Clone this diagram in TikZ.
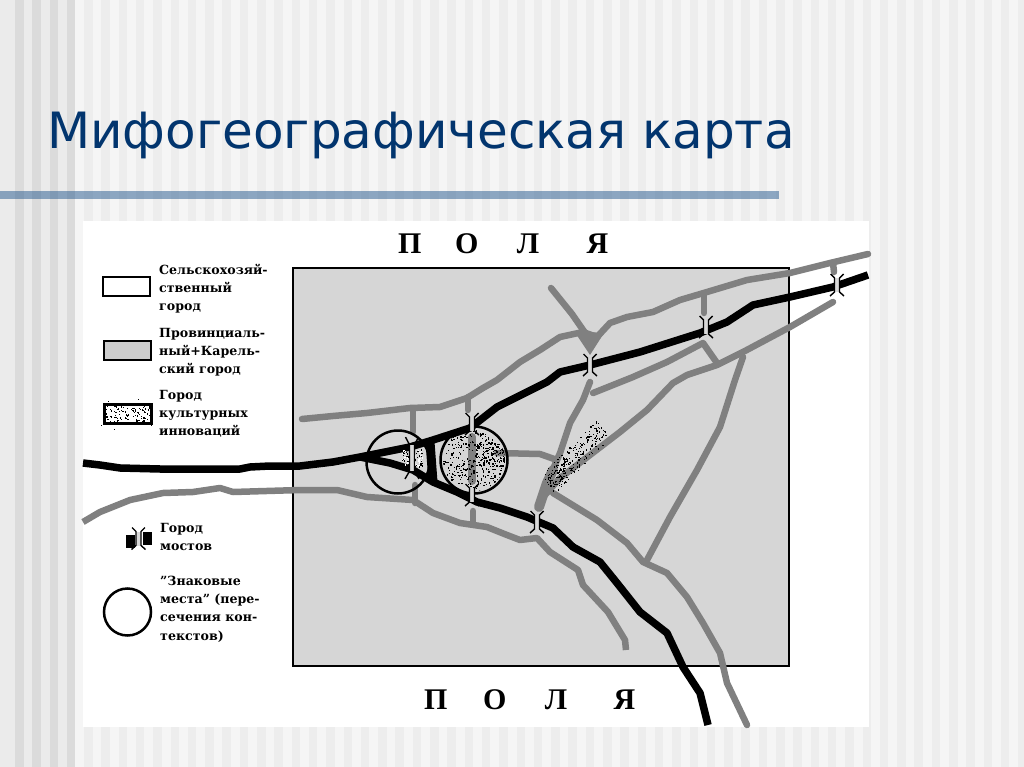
\documentclass[tikz,border=0pt]{standalone}
\usepackage{fontspec}
\setmainfont{DejaVu Serif}
\newfontfamily\titlefont{DejaVu Sans}
\newfontfamily\fieldfont{Liberation Serif}[BoldFont={Liberation Serif Bold}]
\definecolor{titleblue}{HTML}{02356E}
\definecolor{barblue}{HTML}{24598F}
\definecolor{fieldgrey}{HTML}{D6D6D6}
\definecolor{rivergrey}{HTML}{808080}
\definecolor{boxgrey}{HTML}{CDCDCD}
\tikzset{
  greyriver/.style={draw=rivergrey, line width=6.5pt, line join=round, line cap=round},
  blackriver/.style={draw=black, line width=7.5pt, line join=round},
  legendtext/.style={anchor=north west, inner sep=0pt, align=left, font=\fontsize{12.6}{18.2}\selectfont\bfseries},
  fieldtext/.style={anchor=base west, inner sep=0pt, font=\fieldfont\fontsize{30}{30}\selectfont\bfseries},
  legendbox/.style={rectangle, draw, line width=2.5pt, inner sep=0pt, minimum width=47pt, minimum height=19pt},
  placering/.style={circle, draw, line width=2.5pt, inner sep=0pt},
  bridgesign/.pic={
    \fill[fill=white!85!black] (-2.5,-7) rectangle (2.5,7);
    \draw[line width=1.4pt] (-6.5,-11) -- (-2.5,-7) -- (-2.5,7) -- (-7,11);
    \draw[line width=1.4pt] (6.5,-11) -- (2.5,-7) -- (2.5,7) -- (7,11);
  }
}
\begin{document}
\begin{tikzpicture}[x=1pt,y=-1pt]
\useasboundingbox (0,0) rectangle (1024,767);
\fill[white!96!black] (0,0) rectangle (1024,767);
\foreach \k in {0,...,57}
  \fill[white!93!black] ({84+17.3*\k},0) rectangle ({92.5+17.3*\k},767);
\fill[white!92!black] (0,0) rectangle (75,767);
\foreach \k in {0,...,3}
  \fill[white!86!black] ({15+17.3*\k},0) rectangle ({23.5+17.3*\k},767);
\fill[barblue, fill opacity=.5] (0,191) rectangle (779,199);
\node[anchor=base west, inner sep=0pt, text=titleblue, font=\titlefont\fontsize{50}{50}\selectfont] (maptitle) at (47,149) {Мифогеографическая карта};

\fill[white] (83,221) rectangle (869,727);
\node[rectangle, draw, fill=fieldgrey, line width=2.5pt, inner sep=0pt, minimum width=496pt, minimum height=398pt] (city) at (541,467) {};
\node[fieldtext] (fieldtop) at (398,253) {П\hspace{26pt} О\hspace{31pt} Л\hspace{40pt} Я};
\node[fieldtext] (fieldbottom) at (424,709) {П\hspace{28pt} О\hspace{31pt} Л\hspace{39pt} Я};

\draw[greyriver] (302,419) -- (333,416) -- (367,413) -- (410,408) -- (440,407) -- (467,398) -- (483,388) -- (497,380) -- (520,362) -- (540,350) -- (560,337) -- (583,332) -- (597,337) -- (610,323) -- (627,317) -- (653,312) -- (680,300) -- (707,292) -- (747,280) -- (790,273) -- (830,263) -- (868,254);
\draw[greyriver] (551,288) -- (572,314) -- (590,340);
\fill[rivergrey] (574,331) -- (604,333) -- (590,355) -- cycle;
\draw[greyriver] (704,295) -- (704,313);
\draw[greyriver] (833,263) -- (834,272);
\draw[greyriver] (590,382) -- (583,400) -- (570,423) -- (560,453) -- (547,483);
\draw[greyriver, line width=10pt] (553,470) -- (547,483) -- (539,507);
\draw[greyriver] (593,393) -- (633,377) -- (667,362) -- (703,343) -- (717,363);
\draw[greyriver] (545,495) -- (560,478) -- (590,455) -- (620,432) -- (647,410) -- (673,383) -- (687,375) -- (717,365) -- (743,352) -- (790,327) -- (833,302);
\draw[greyriver] (743,357) -- (735,380) -- (720,427) -- (697,470) -- (670,517) -- (647,560);
\draw[greyriver] (553,493) -- (597,520) -- (627,543) -- (643,562) -- (667,573) -- (687,597) -- (703,623) -- (720,653) -- (727,683) -- (747,725);
\draw[greyriver, line cap=butt] (83,522) -- (100,512) -- (130,500) -- (163,493) -- (193,492) -- (220,488) -- (233,492) -- (300,490) -- (337,490) -- (367,497) -- (413,500) -- (433,513) -- (460,523) -- (487,527) -- (507,535) -- (520,540) -- (537,538) -- (550,552) -- (578,570) -- (583,585) -- (608,612) -- (625,640) -- (626,650);
\draw[greyriver] (413,410) -- (413,432);
\draw[greyriver] (415,485) -- (415,503);
\draw[greyriver] (473,511) -- (473,523);
\draw[greyriver] (468,397) -- (468,410);
\draw[greyriver, line width=8pt] (472,437) -- (472,481);
\draw[greyriver] (497,453) -- (540,454) -- (557,460);

\draw[blackriver] (83,463) -- (100,465) -- (120,468) -- (160,469) -- (240,469) -- (250,467) -- (270,466) -- (300,466) -- (333,462) -- (360,457) -- (410,447) -- (433,440) -- (470,428) -- (497,407) -- (517,397) -- (547,382) -- (560,372) -- (590,365) -- (640,352) -- (700,333) -- (727,322) -- (753,305) -- (790,297) -- (833,287) -- (868,275);
\draw[blackriver] (360,457) -- (390,463) -- (413,470) -- (433,482) -- (457,492) -- (477,502) -- (500,508) -- (527,517) -- (553,528) -- (573,547) -- (600,562) -- (617,583) -- (640,612) -- (667,633) -- (683,667) -- (700,693) -- (708,725);
\draw[blackriver, line width=9pt] (430,442) -- (433,482);

\pgfmathsetseed{11}
\begin{scope}
\clip (474,460) circle[radius=31];
\foreach \k in {1,...,330}
  \fill ({474+31*rand},{460+31*rand}) rectangle +(1.3,1.3);
\foreach \k in {1,...,110}
  \fill ({490+15*rand},{454+12*rand}) rectangle +(1.3,1.3);
\end{scope}
\foreach \k in {1,...,55}
  \fill[white] ({412+10*rand},{458+9*rand}) rectangle +(1.5,1.5);
\foreach \k in {1,...,60}
  \fill ({412+10*rand},{458+9*rand}) rectangle +(1.2,1.2);
\foreach \k in {1,...,200} {
  \pgfmathsetmacro{\stipa}{rand}
  \pgfmathsetmacro{\stipb}{rand}
  \fill ({575+28*\stipa+7*\stipb},{457-28*\stipa+9*\stipb}) rectangle +(1.2,1.2);
}
\foreach \k in {1,...,50} {
  \pgfmathsetmacro{\stipa}{rand}
  \pgfmathsetmacro{\stipb}{rand}
  \fill ({559+10*\stipa+4*\stipb},{472-10*\stipa+6*\stipb}) rectangle +(1.2,1.2);
}
\node[placering, minimum size=63pt] (ring0) at (398,462) {};
\node[placering, minimum size=67pt] (ring1) at (474,460) {};

\pic (bridge0) at (590,365) {bridgesign};
\pic (bridge1) at (706,327) {bridgesign};
\pic (bridge2) at (837,285) {bridgesign};
\pic (bridge3) at (537,522) {bridgesign};
\pic (bridge4) at (472,424) {bridgesign};
\pic (bridge5) at (472,495) {bridgesign};
\pic[yscale=1.9] (bridge6) at (412,458) {bridgesign};

\node[legendbox] (box0) at (126.5,286.5) {};
\node[legendbox, fill=boxgrey] (box1) at (127.5,350.5) {};
\node[legendbox, fill=white] (box2) at (128,414) {};
\foreach \k in {1,...,110}
  \fill ({128+24*rand},{414+10*rand}) rectangle +(1.2,1.2);
\foreach \k in {1,...,22}
  \fill ({128+29*rand},{414+15*rand}) rectangle +(1,1);
\node[legendbox, fill=white, fill opacity=0, minimum width=47pt] (box3) at (128,414) {};
\fill (126,535) rectangle (135,548);
\fill (143,532) rectangle (152,545);
\pic (bridge7) at (138.5,538.5) {bridgesign};
\node[placering, minimum size=47pt] (ring2) at (127.5,612) {};

\node[legendtext] (leg0) at (159,264) {Сельскохозяй-\\ственный\\город};
\node[legendtext] (leg1) at (159,328) {Провинциаль-\\ный+Карель-\\ский город};
\node[legendtext] (leg2) at (159,390) {Город\\культурных\\инноваций};
\node[legendtext] (leg3) at (160,523) {Город\\мостов};
\node[legendtext] (leg4) at (160,576) {"Знаковые\\места" (пере-\\сечения кон-\\текстов)};
\end{tikzpicture}
\end{document}
